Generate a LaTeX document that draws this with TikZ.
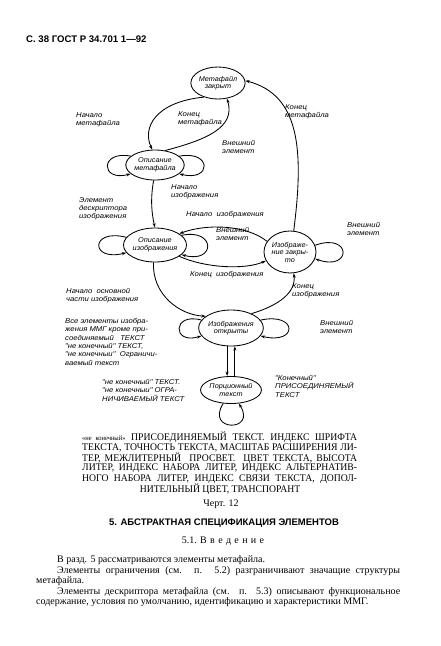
\documentclass[tikz,border=0pt]{standalone}
\usepackage{fontspec}
\setmainfont{Liberation Serif}
\newfontfamily\capf[FakeStretch=0.95]{Liberation Serif}
\newfontfamily\lab[FakeStretch=1.1]{Liberation Sans}
\newfontfamily\elab[FakeStretch=1.04]{Liberation Sans}
\newfontfamily\hdr{Liberation Sans}
\usetikzlibrary{shapes.geometric,arrows.meta}
\begin{document}
\begin{tikzpicture}[x=1pt,y=-1pt,
 st/.style={ellipse,draw,line width=0.85pt,inner sep=0pt,align=center,font=\elab\itshape\fontsize{7}{7.5}\selectfont},
 ar/.style={-{Stealth[length=4.5pt,width=3pt]},line width=0.85pt},
 lb/.style={font=\lab\itshape\fontsize{7}{8.4}\selectfont,align=left,inner sep=0pt,anchor=north west},
 captxt/.style={font=\capf\fontsize{10.2}{10.5}\selectfont,inner sep=0pt,anchor=west},
 bt/.style={font=\fontsize{10}{11}\selectfont,inner sep=0pt,anchor=west},
]
\useasboundingbox (0,0) rectangle (441,646);
% header
\node[font=\hdr\bfseries\fontsize{9.6}{10}\selectfont,inner sep=0pt,anchor=west] (hd) at (26,39) {С. 38 ГОСТ Р 34.701 1—92};
% states
\node[st,minimum width=50pt,minimum height=32pt] (mz) at (218,83) {Метафайл\\закрыт};
\node[st,minimum width=54pt,minimum height=30pt] (om) at (155,165) {Описание\\метафайла};
\node[st,minimum width=58pt,minimum height=34pt] (oi) at (155,245) {Описание\\изображения};
\node[st,minimum width=52pt,minimum height=42pt] (iz) at (290,252) {Изображе-\\ние закры-\\то};
\node[st,minimum width=62pt,minimum height=36pt] (io) at (231,328) {Изображения\\открыты};
\node[st,minimum width=44pt,minimum height=27pt] (pt) at (231,390) {Порционный\\текст};
% edges
\draw[ar] (mz.225) .. controls (155,102) and (142,128) .. (om.100);
\draw[ar] (om.55) .. controls (205,140) and (236,128) .. (mz.300);
\draw[ar] (om.160) .. controls (100,150) and (100,182) .. (om.200);
\draw[ar] (om.20) .. controls (212,150) and (212,182) .. (om.-20);
\draw[ar] (om.-95) .. controls (150,200) and (152,215) .. (oi.90);
\draw[ar] (iz.80) .. controls (304,150) and (300,95) .. (mz.5);
\draw[ar] (iz.155) .. controls (245,224) and (205,224) .. (oi.25);
\draw[ar] (oi.165) .. controls (90,228) and (90,262) .. (oi.195);
\draw[ar] (oi.20) .. controls (216,228) and (216,264) .. (oi.-20);
\draw[ar] (oi.-25) .. controls (205,268) and (245,270) .. (iz.200);
\draw[ar] (iz.15) .. controls (352,232) and (352,272) .. (iz.-15);
\draw[ar] (oi.-95) .. controls (152,295) and (180,315) .. (io.155);
\draw[ar] (io.35) .. controls (280,305) and (296,292) .. (iz.-80);
\draw[ar] (io.165) .. controls (172,312) and (172,345) .. (io.195);
\draw[ar] (io.15) .. controls (298,312) and (298,345) .. (io.-15);
\draw[ar] (io.-102) -- (pt.north -| io.-102);
\draw[ar] (pt.north -| io.-78) -- (io.-78);
\draw[ar] (pt.-120) .. controls (205,432) and (257,432) .. (pt.-60);
% labels
\node[lb] (l1) at (76,112) {Начало\\метафайла};
\node[lb] (l2) at (178,111) {Конец\\метафайла};
\node[lb] (l3) at (285,104) {Конец\\метафайла};
\node[lb] (l4) at (222,140) {Внешний\\элемент};
\node[lb] (l5) at (171,184) {Начало\\изображения};
\node[lb] (l6) at (79,197) {Элемент\\дескриптора\\изображения};
\node[lb] (l7) at (186,211) {Начало\ \ изображения};
\node[lb] (l8) at (216,227) {Внешний\\элемент};
\node[lb] (l9) at (347,222) {Внешний\\элемент};
\node[lb] (l10) at (190,271) {Конец\ \ изображения};
\node[lb] (l11) at (66,288) {Начало\ \ основной\\части\ изображения};
\node[lb] (l12) at (292,283) {Конец\\изображения};
\node[lb] (l13) at (65,318) {Все элементы изобра-\\жения ММГ кроме при-\\соединяемый\ \ \ ТЕКСТ\\"не конечный" ТЕКСТ,\\"не конечныи"\ \ Ограничи-\\ваемый текст};
\node[lb] (l14) at (320,320) {Внешний\\элемент};
\node[lb] (l15) at (102,379) {"не конечный" ТЕКСТ.\\"не конечныи" ОГРА-\\НИЧИВАЕМЫЙ ТЕКСТ};
\node[lb] (l16) at (275,375) {"Конечный"\\ПРИСОЕДИНЯЕМЫЙ\\ТЕКСТ};
% caption block
\node[captxt] (c1) at (82,437) {\makebox[275pt][s]{{\fontsize{6.8}{7}\selectfont «не конечный»} ПРИСОЕДИНЯЕМЫЙ ТЕКСТ. ИНДЕКС ШРИФТА}};
\node[captxt] (c2) at (82,447.5) {\makebox[275pt][s]{ТЕКСТА, ТОЧНОСТЬ ТЕКСТА, МАСШТАБ РАСШИРЕНИЯ ЛИ-}};
\node[captxt] (c3) at (82,458) {\makebox[275pt][s]{ТЕР, МЕЖЛИТЕРНЫЙ\ \ ПРОСВЕТ.\ \ ЦВЕТ ТЕКСТА, ВЫСОТА}};
\node[captxt] (c4) at (82,468.5) {\makebox[275pt][s]{ЛИТЕР, ИНДЕКС НАБОРА ЛИТЕР, ИНДЕКС АЛЬТЕРНАТИВ-}};
\node[captxt] (c5) at (82,479) {\makebox[275pt][s]{НОГО НАБОРА ЛИТЕР, ИНДЕКС СВЯЗИ ТЕКСТА, ДОПОЛ-}};
\node[captxt,anchor=center] (c6) at (220,489.5) {НИТЕЛЬНЫЙ ЦВЕТ, ТРАНСПОРАНТ};
\node[bt,anchor=center] (ch) at (221,504) {Черт. 12};
\node[font=\hdr\bfseries\fontsize{9.5}{10}\selectfont,inner sep=0pt] (t5) at (224,523) {5. АБСТРАКТНАЯ СПЕЦИФИКАЦИЯ ЭЛЕМЕНТОВ};
\node[bt,anchor=center] (t51) at (223,541) {5.1. В\,\,в\,\,е\,\,д\,\,е\,\,н\,\,и\,\,е};
\node[bt] (b1) at (57,560) {В разд. 5 рассматриваются элементы метафайла.};
\node[bt] (b2) at (57,571) {\makebox[343pt][s]{Элементы ограничения (см. п. 5.2) разграничивают значащие структуры}};
\node[bt] (b3) at (36,581.5) {метафайла.};
\node[bt] (b4) at (57,592) {\makebox[343pt][s]{Элементы дескриптора метафайла (см. п.\ \ 5.3) описывают функциональное}};
\node[bt] (b5) at (36,602.5) {содержание, условия по умолчанию, идентификацию и характеристики ММГ.};
\end{tikzpicture}
\end{document}
